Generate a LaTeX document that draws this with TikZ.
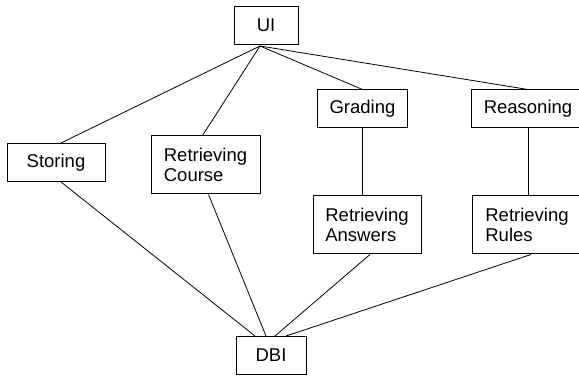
\documentclass[tikz,border=0pt]{standalone}
\usepackage{fontspec}
\setmainfont{Liberation Sans}
\usetikzlibrary{positioning}

\begin{document}
\begin{tikzpicture}[x=1pt,y=1pt,
  font=\fontsize{18.5}{20.6}\selectfont,
  box/.style={rectangle,draw,line width=1pt,align=left,inner xsep=12pt,minimum height=38pt},
  twoline/.style={minimum height=58pt},
  link/.style={line width=0.8pt}]
\clip (0,0) rectangle (579,380);

\node[box,minimum width=64pt] (ui) at (266,354.5) {UI};
\node[box,minimum width=98pt] (st) at (56,217.5) {Storing};
\node[box,twoline,minimum width=109pt] (rc) at (205.5,215) {Retrieving\\Course};
\node[box,minimum width=89pt] (gr) at (362.5,271) {Grading};
\node[box,minimum width=112pt] (rs) at (528,271) {Reasoning};
\node[box,twoline,minimum width=108pt,below=67pt of gr,xshift=4.5pt] (ra) {Retrieving\\Answers};
\node[box,twoline,minimum width=110pt,below=67pt of rs,xshift=-1pt] (rr) {Retrieving\\Rules};
\node[box,minimum width=70pt] (dbi) at (271,24.5) {DBI};

\coordinate (uib) at ([xshift=-6pt,yshift=-1pt]ui.south);

% UI to the upper row
\draw[link] (uib) -- ([xshift=5pt]st.north);
\draw[link] (uib) -- ([xshift=-3pt]rc.north);
\draw[link] (uib) -- (gr.north);
\draw[link] (uib) -- (rs.north);

\draw[link] (gr.south) -- (gr.south |- ra.north);
\draw[link] (rs.south) -- (rs.south |- rr.north);

% down to DBI
\draw[link] ([xshift=5pt]st.south) -- ([xshift=-16pt]dbi.north);
\draw[link] ([xshift=3pt]rc.south) -- ([xshift=-5pt]dbi.north);
\draw[link] ([xshift=3pt]ra.south) -- ([xshift=4pt]dbi.north);
\draw[link] ([xshift=4pt]rr.south) -- ([xshift=15pt]dbi.north);
\end{tikzpicture}
\end{document}
